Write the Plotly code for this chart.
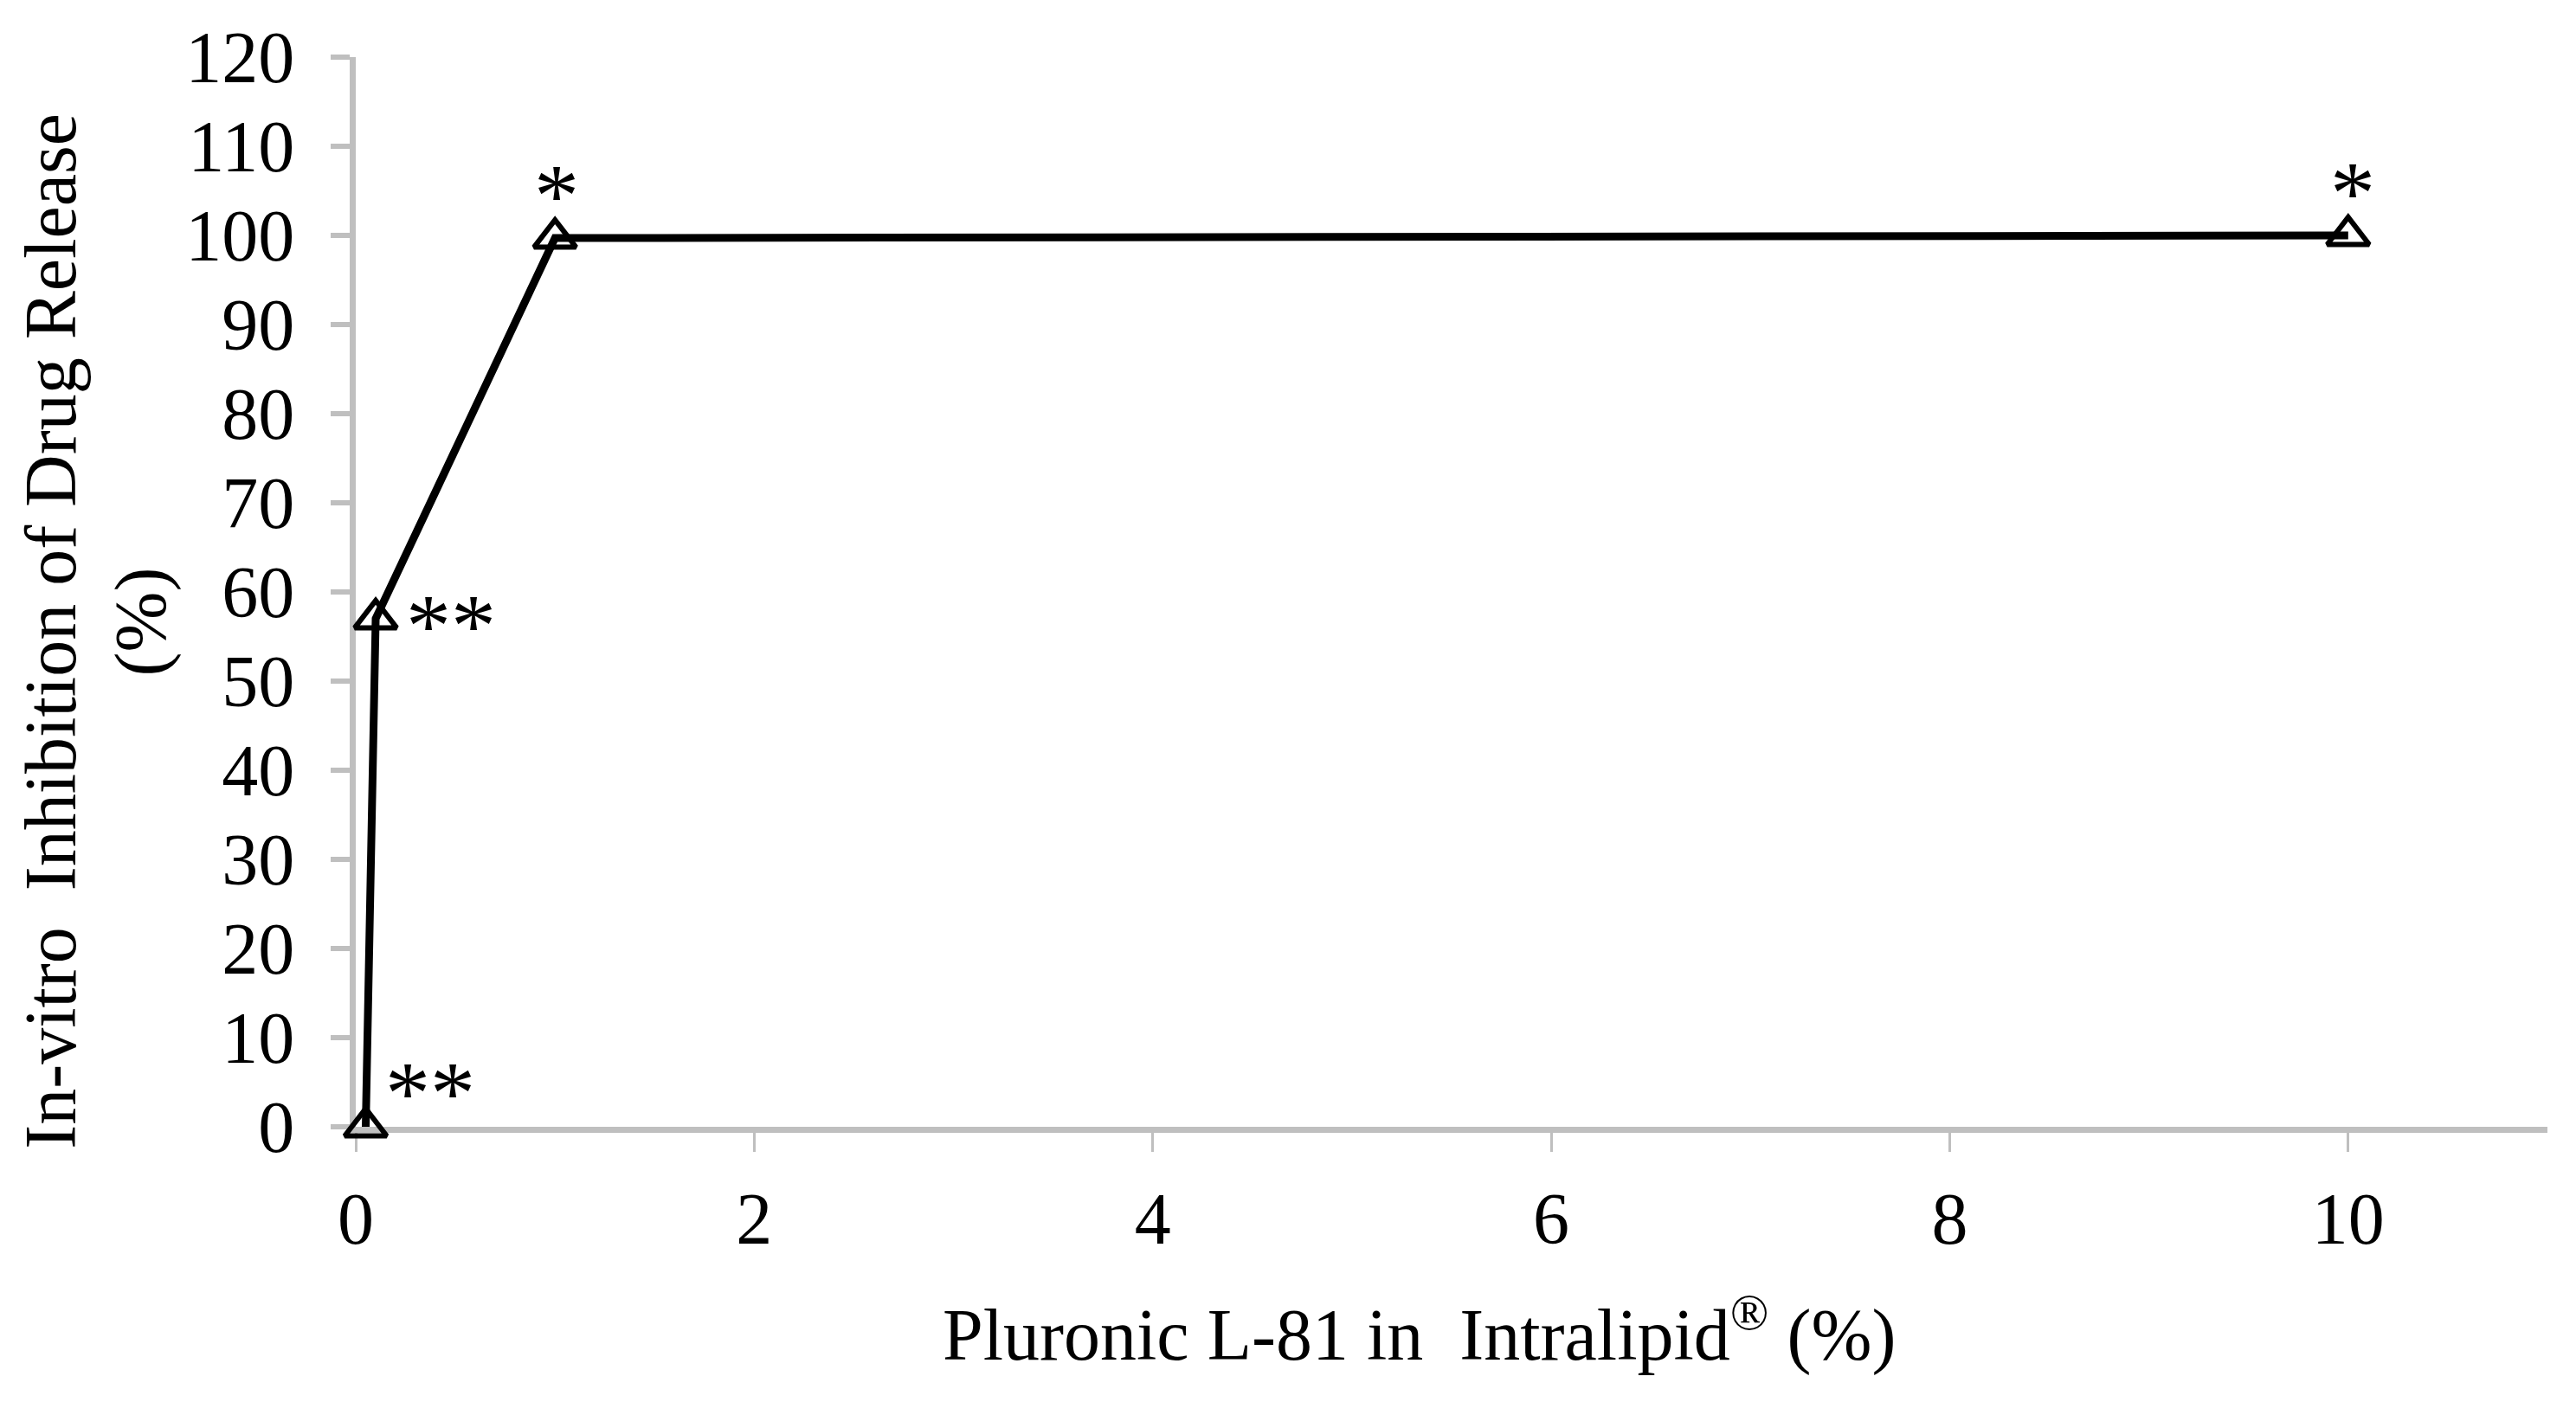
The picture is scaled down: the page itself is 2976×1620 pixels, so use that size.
import plotly.graph_objects as go

# Pluronic L-81 concentration (%) vs in-vitro inhibition (%)
conc = [0.05, 0.1, 1, 10]
inhibition = [0, 57, 99.7, 100]
sig_labels = ["**", "**", "*", "*"]
# pixel offsets of the significance marks from their points
sig_dx = [74, 87, 2, 5]
sig_dy = [40, -8, 50, 50]

x_ticks = [0, 2, 4, 6, 8, 10]
y_ticks = list(range(0, 121, 10))

FONT = "Liberation Serif, Times New Roman, serif"
FS = 84
GREY = "#BFBFBF"

fig = go.Figure()

fig.add_trace(go.Scatter(
    x=conc,
    y=inhibition,
    mode="lines+markers",
    line=dict(color="black", width=9),
    marker=dict(symbol="triangle-up-open", size=42, color="black",
                line=dict(color="black", width=6)),
    cliponaxis=False,
    showlegend=False,
))

for xv, yv, s, dx, dy in zip(conc, inhibition, sig_labels, sig_dx, sig_dy):
    fig.add_annotation(x=xv, y=yv, text=s, showarrow=False,
                       xshift=dx, yshift=dy,
                       font=dict(family=FONT, size=104, color="black"))

# axis titles
fig.add_annotation(xref="paper", yref="paper", x=0.485, y=-0.19,
                   text="Pluronic L-81 in \u00a0Intralipid<sup>®</sup> (%)",
                   showarrow=False, xanchor="center", yanchor="middle",
                   font=dict(family=FONT, size=FS, color="black"))
fig.add_annotation(xref="paper", yref="paper", x=-0.139, y=0.463,
                   text="In-vitro \u00a0Inhibition of Drug Release",
                   textangle=-90, showarrow=False,
                   xanchor="center", yanchor="middle",
                   font=dict(family=FONT, size=FS, color="black"))
fig.add_annotation(xref="paper", yref="paper", x=-0.098, y=0.472,
                   text="(%)", textangle=-90, showarrow=False,
                   xanchor="center", yanchor="middle",
                   font=dict(family=FONT, size=FS, color="black"))

# page body has an 8px margin, so the figure is 16px smaller
fig.update_layout(
    width=2960,
    height=1604,
    plot_bgcolor="white",
    paper_bgcolor="white",
    margin=dict(l=403, r=25, t=55, b=310),
    font=dict(family=FONT, size=FS, color="black"),
)

fig.update_xaxes(
    range=[0, 11],
    tickvals=x_ticks,
    showgrid=False,
    zeroline=False,
    showline=True,
    linecolor=GREY,
    linewidth=7,
    ticks="outside",
    ticklen=22,
    tickwidth=3,
    tickcolor=GREY,
    ticklabelstandoff=5,
    layer="below traces",
)

fig.update_yaxes(
    range=[0, 120],
    tickvals=y_ticks,
    showgrid=False,
    zeroline=False,
    showline=True,
    linecolor=GREY,
    linewidth=7,
    ticks="outside",
    ticklen=22,
    tickwidth=6,
    tickcolor=GREY,
    ticklabelstandoff=25,
    layer="below traces",
)

fig.write_html("out.html")
